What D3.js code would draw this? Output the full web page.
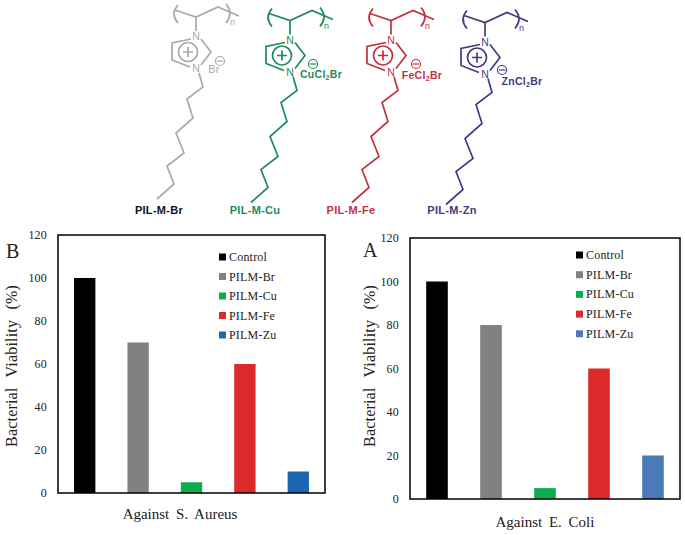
<!DOCTYPE html>
<html>
<head>
<meta charset="utf-8">
<script src="https://cdnjs.cloudflare.com/ajax/libs/d3/7.8.5/d3.min.js"></script>
<style>
	html, body { margin: 0; padding: 0; background: #fff; }
	svg { display: block; }
	.tick text, .legend text { font-family: "Liberation Serif", serif; font-size: 12px; fill: #222; letter-spacing: 0.2px; }
	.axis-label { font-family: "Liberation Serif", serif; font-size: 15px; fill: #222; word-spacing: 3px; }
	.y-label { font-size: 16px; word-spacing: 6px; letter-spacing: 0.2px; }
	.panel-letter { font-family: "Liberation Serif", serif; font-size: 20px; fill: #222; }
	.mol-line { fill: none; stroke-width: 1.7; stroke-linejoin: miter; }
	.mol text, text.mol { font-family: "Liberation Sans", sans-serif; }
</style>
</head>
<body>
<svg id="chart" width="685" height="535"></svg>
<script>
// Chart data
var CATEGORIES = ['Control', 'PILM-Br', 'PILM-Cu', 'PILM-Fe', 'PILM-Zu'];
var AUREUS_VALUES = [100, 70, 5, 60, 10];
var COLI_VALUES = [100, 80, 5, 60, 20];
var Y_TICKS = [0, 20, 40, 60, 80, 100, 120];
var AUREUS_COLORS = ['#000000', '#7f8182', '#0aae4e', '#dc2a2a', '#1f66b0'];
var COLI_COLORS = ['#000000', '#7f8182', '#0aae4e', '#dc2a2a', '#4a7ab8'];

// Molecule labels
var MOL_NAMES = ['PIL-M-Br', 'PIL-M-Cu', 'PIL-M-Fe', 'PIL-M-Zn'];
var MOL_METALS = ['Br', 'CuCl', 'FeCl', 'ZnCl'];
var MOL_COLORS = ['#a9a9a9', '#1e8a5c', '#c0323f', '#413c82'];

// Skeleton of the drawn molecule, all four share it
var BACKBONE = [[175, 10], [196, 17], [218, 7], [239, 16]];
var STEM = [[196, 17], [196, 31]];
var RING_LEFT = [[191, 39], [172, 43], [172, 60], [190, 67]];
var RING_RIGHT = [[201, 39], [211, 52], [201, 65]];
var TAIL = [[199, 73], [203, 87], [187, 99], [193, 118], [176, 133], [184, 153], [167, 166], [174, 184], [157, 199]];

var svg = d3.select('#chart');
var line = d3.line();

/*
 * Draw one of the structures at the top.
 */
function renderMolecule(config) {
	var color = config.color;
	var isBromide = config.metal === 'Br';
	var g = svg.append('g')
		.attr('class', 'mol')
		.attr('transform', 'translate(' + config.dx + ',' + config.dy + ')');

	[BACKBONE, STEM, RING_LEFT, RING_RIGHT, TAIL].forEach(function(pts) {
		g.append('path')
			.attr('class', 'mol-line')
			.attr('stroke', color)
			.attr('d', line(pts));
	});

	// brackets
	g.append('path').attr('class', 'mol-line').attr('stroke', color).attr('d', 'M178,5Q170,14 178,23');
	g.append('path').attr('class', 'mol-line').attr('stroke', color).attr('d', 'M226,4Q234,13 226,23');
	g.append('text').attr('x', 230).attr('y', 25).attr('font-size', 9).attr('fill', color).text('n');

	// nitrogens
	[[196, 40], [196, 72]].forEach(function(p) {
		g.append('text')
			.attr('x', p[0]).attr('y', p[1])
			.attr('text-anchor', 'middle')
			.attr('font-size', 10.5)
			.attr('fill', color)
			.text('N');
	});

	// plus in circle
	g.append('circle').attr('class', 'mol-line').attr('stroke', color).attr('cx', 188).attr('cy', 52).attr('r', 9.5);
	g.append('path').attr('class', 'mol-line').attr('stroke', color).attr('d', 'M183,52H193M188,47V57');

	// counter ion, position is relative to this molecule
	var minus = config.minus;
	g.append('circle').attr('class', 'mol-line').attr('stroke', color).style('stroke-width', 1.2)
		.attr('cx', minus[0]).attr('cy', minus[1]).attr('r', 4.5);
	g.append('path').attr('class', 'mol-line').attr('stroke', color).style('stroke-width', 1.2)
		.attr('d', 'M' + (minus[0] - 3) + ',' + minus[1] + 'h6');

	var ion = g.append('text')
		.attr('x', config.ion[0]).attr('y', config.ion[1])
		.attr('text-anchor', 'middle')
		.attr('font-size', isBromide ? 11 : 10.5)
		.attr('font-weight', isBromide ? 'normal' : 'bold')
		.attr('letter-spacing', 0.3)
		.attr('fill', color);
	ion.append('tspan').text(config.metal);
	if (!isBromide) {
		ion.append('tspan').attr('font-size', 7).attr('dy', 2).text('2');
		ion.append('tspan').attr('dy', -2).text('Br');
	}

	svg.append('text')
		.attr('class', 'mol')
		.attr('x', config.labelX).attr('y', 214)
		.attr('text-anchor', 'middle')
		.attr('font-size', 11)
		.attr('font-weight', 'bold')
		.attr('letter-spacing', 0.3)
		.attr('fill', config.labelColor)
		.text(config.name);
}

/*
 * Draw one bar panel.
 */
function renderPanel(config) {
	var xScale = d3.scaleBand()
		.domain(CATEGORIES)
		.range([config.left, config.right])
		.paddingInner(0.6)
		.paddingOuter(0.3);

	var yScale = d3.scaleLinear()
		.domain([0, 120])
		.range([config.bottom, config.top]);

	var panel = svg.append('g');

	panel.selectAll('rect.bar')
		.data(config.values)
		.enter().append('rect')
		.attr('class', 'bar')
		.attr('x', function(d, i) { return xScale(CATEGORIES[i]); })
		.attr('y', function(d) { return yScale(d); })
		.attr('width', xScale.bandwidth())
		.attr('height', function(d) { return yScale(0) - yScale(d); })
		.attr('fill', function(d, i) { return config.colors[i]; });

	// frame
	panel.append('rect')
		.attr('x', config.left)
		.attr('y', config.top)
		.attr('width', config.right - config.left)
		.attr('height', config.bottom - config.top)
		.attr('fill', 'none')
		.attr('stroke', '#000')
		.attr('stroke-width', 1.5);

	var yAxis = d3.axisLeft(yScale)
		.tickValues(Y_TICKS)
		.tickSize(0)
		.tickPadding(11);

	var yAxisElement = panel.append('g')
		.attr('transform', 'translate(' + config.left + ',0)')
		.call(yAxis);
	yAxisElement.select('.domain').remove();

	// legend
	var legend = panel.append('g').attr('class', 'legend');
	var rows = legend.selectAll('g')
		.data(CATEGORIES)
		.enter().append('g')
		.attr('transform', function(d, i) {
			return 'translate(' + config.legendX + ',' + (config.legendY + i * config.legendStep) + ')';
		});
	rows.append('rect')
		.attr('x', 0).attr('y', -3.5)
		.attr('width', 7).attr('height', 7)
		.attr('fill', function(d, i) { return config.colors[i]; });
	rows.append('text')
		.attr('x', 10).attr('y', 4)
		.text(function(d) { return d; });

	panel.append('text')
		.attr('class', 'axis-label y-label')
		.attr('transform', 'translate(' + config.yLabelX + ',' + config.yLabelY + ') rotate(-90)')
		.attr('text-anchor', 'middle')
		.text('Bacterial Viability (%)');

	panel.append('text')
		.attr('class', 'axis-label')
		.attr('x', config.xLabelX)
		.attr('y', config.xLabelY)
		.attr('text-anchor', 'middle')
		.text(config.title);

	panel.append('text')
		.attr('class', 'panel-letter')
		.attr('x', config.letterX)
		.attr('y', config.letterY)
		.text(config.letter);
}

renderMolecule({ dx: 0, dy: 0, color: MOL_COLORS[0], labelColor: '#111', name: MOL_NAMES[0], metal: MOL_METALS[0], minus: [220, 61], ion: [214, 73], labelX: 159 });
renderMolecule({ dx: 94, dy: 3.5, color: MOL_COLORS[1], labelColor: MOL_COLORS[1], name: MOL_NAMES[1], metal: MOL_METALS[1], minus: [219, 60.5], ion: [227, 74], labelX: 255 });
renderMolecule({ dx: 195, dy: 3.5, color: MOL_COLORS[2], labelColor: MOL_COLORS[2], name: MOL_NAMES[2], metal: MOL_METALS[2], minus: [221, 60.5], ion: [227, 75], labelX: 351 });
renderMolecule({ dx: 289, dy: 5.5, color: MOL_COLORS[3], labelColor: MOL_COLORS[3], name: MOL_NAMES[3], metal: MOL_METALS[3], minus: [213, 64.5], ion: [233, 79], labelX: 452 });

renderPanel({
	values: AUREUS_VALUES, colors: AUREUS_COLORS,
	left: 58, right: 325, top: 235, bottom: 493,
	legendX: 219, legendY: 257, legendStep: 19.5,
	yLabelX: 17, yLabelY: 366,
	xLabelX: 180, xLabelY: 519,
	title: 'Against S. Aureus',
	letter: 'B', letterX: 6, letterY: 258
});

renderPanel({
	values: COLI_VALUES, colors: COLI_COLORS,
	left: 410, right: 680, top: 238, bottom: 499,
	legendX: 576, legendY: 255, legendStep: 19.7,
	yLabelX: 375, yLabelY: 366,
	xLabelX: 545, xLabelY: 527,
	title: 'Against E. Coli',
	letter: 'A', letterX: 363, letterY: 257
});
</script>
</body>
</html>
